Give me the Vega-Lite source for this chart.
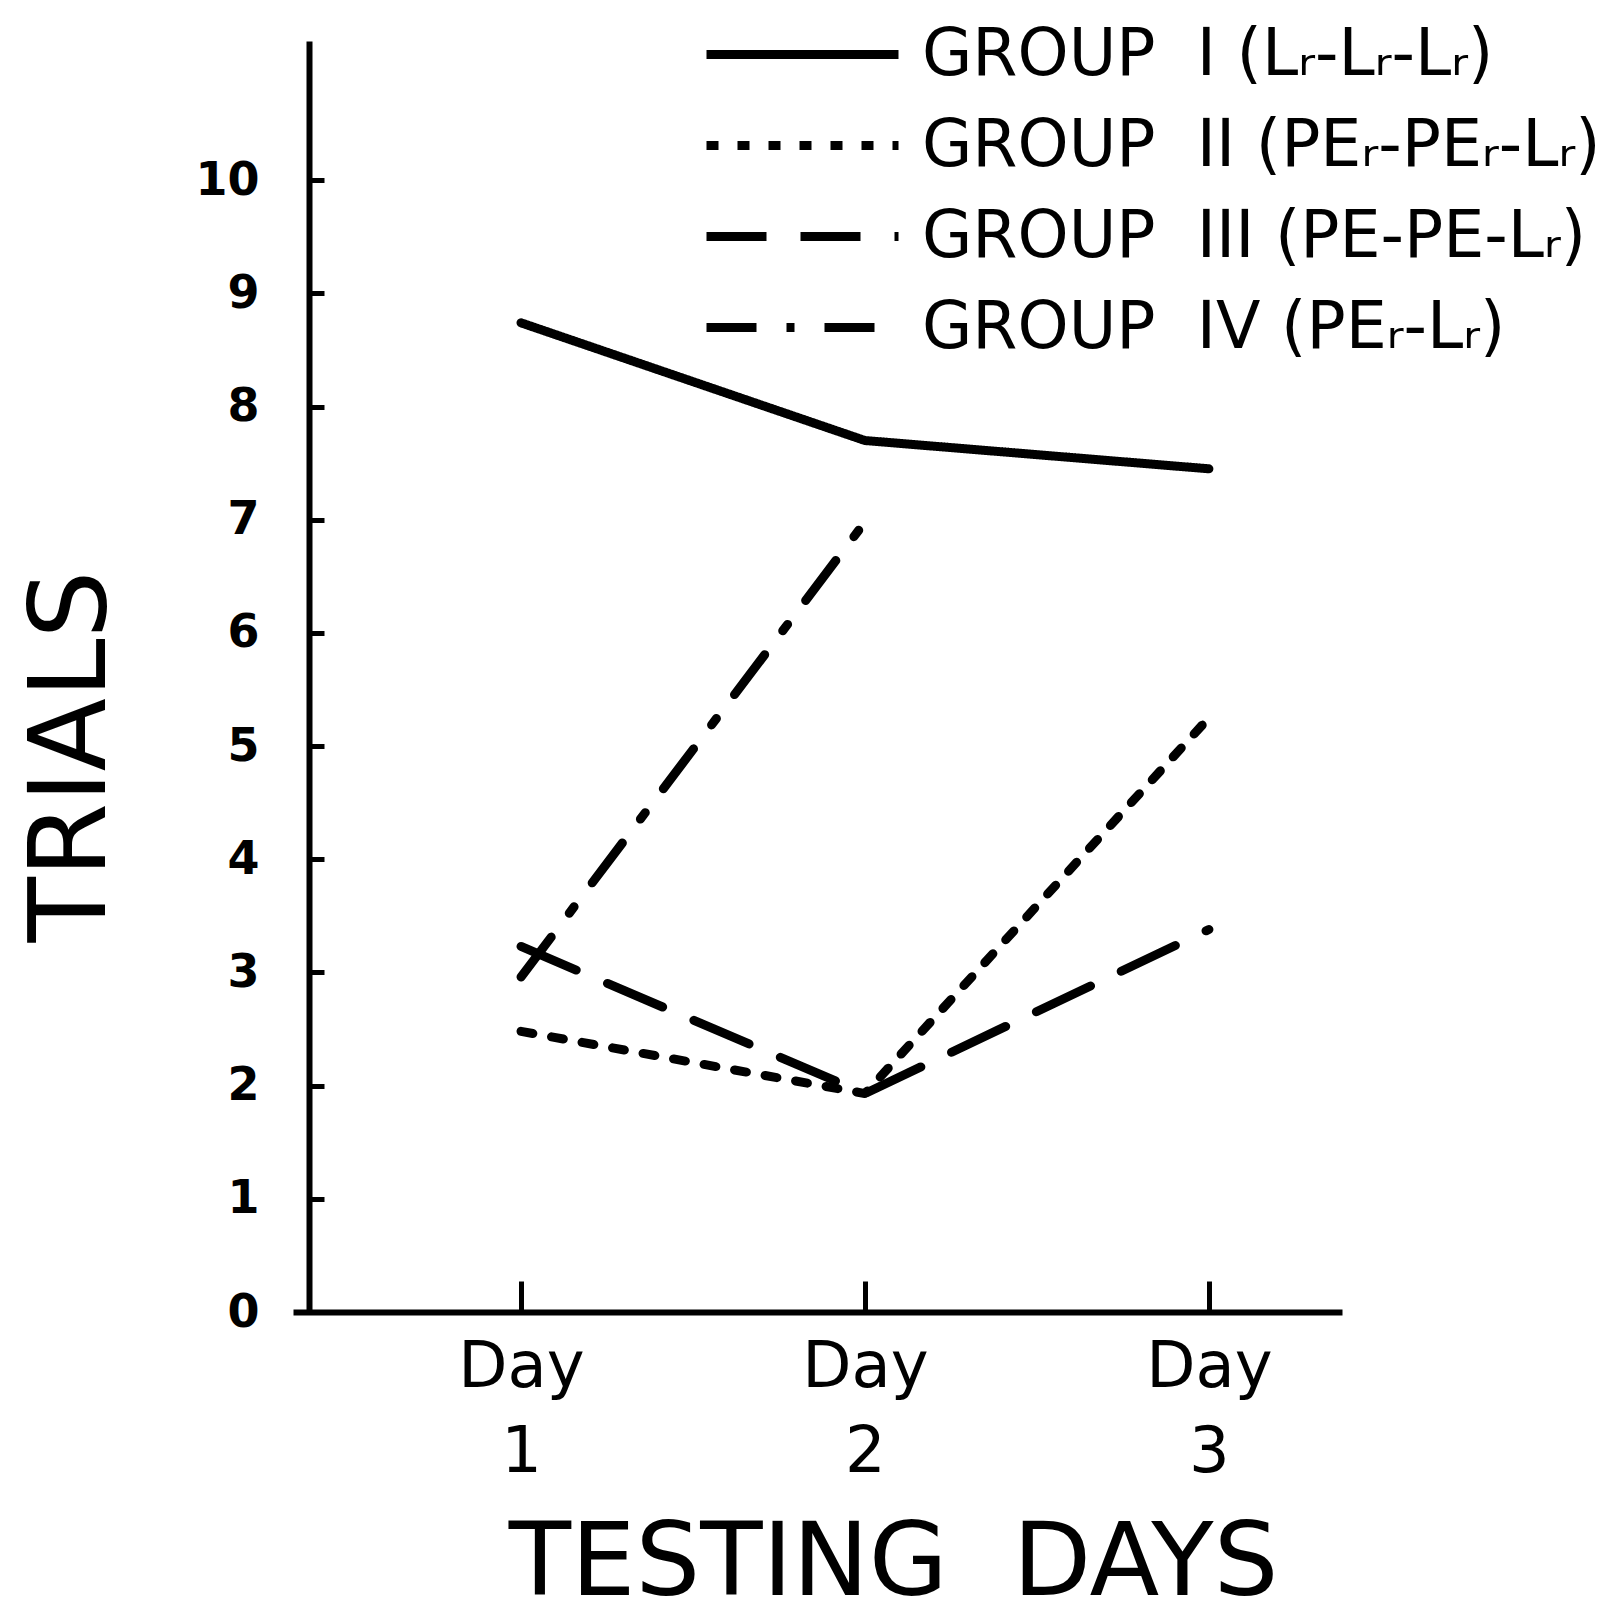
{
  "$schema": "https://vega.github.io/schema/vega-lite/v6.json",
  "autosize": {"type": "none"},
  "padding": {"left": 293, "top": 41, "right": 277, "bottom": 312},
  "width": 1049,
  "height": 1271,
  "background": "white",
  "config": {"view": {"stroke": null}, "font": "DejaVu Sans"},
  "data": {
    "values": [
      {"group": "GROUP\u00a0\u00a0I\u00a0(Lᵣ-Lᵣ-Lᵣ)", "day": 1, "trials": 8.74},
      {"group": "GROUP\u00a0\u00a0I\u00a0(Lᵣ-Lᵣ-Lᵣ)", "day": 2, "trials": 7.70},
      {"group": "GROUP\u00a0\u00a0I\u00a0(Lᵣ-Lᵣ-Lᵣ)", "day": 3, "trials": 7.45},
      {"group": "GROUP\u00a0\u00a0II\u00a0(PEᵣ-PEᵣ-Lᵣ)", "day": 1, "trials": 2.48},
      {"group": "GROUP\u00a0\u00a0II\u00a0(PEᵣ-PEᵣ-Lᵣ)", "day": 2, "trials": 1.93},
      {"group": "GROUP\u00a0\u00a0II\u00a0(PEᵣ-PEᵣ-Lᵣ)", "day": 3, "trials": 5.25},
      {"group": "GROUP\u00a0\u00a0III\u00a0(PE-PE-Lᵣ)", "day": 1, "trials": 3.23},
      {"group": "GROUP\u00a0\u00a0III\u00a0(PE-PE-Lᵣ)", "day": 2, "trials": 1.93},
      {"group": "GROUP\u00a0\u00a0III\u00a0(PE-PE-Lᵣ)", "day": 3, "trials": 3.38},
      {"group": "GROUP\u00a0\u00a0IV\u00a0(PEᵣ-Lᵣ)", "day": 1, "trials": 2.96},
      {"group": "GROUP\u00a0\u00a0IV\u00a0(PEᵣ-Lᵣ)", "day": 2, "trials": 6.98}
    ]
  },
  "mark": {"type": "line", "color": "black", "strokeWidth": 9, "strokeCap": "round", "strokeJoin": "round"},
  "encoding": {
    "x": {
      "field": "day",
      "type": "quantitative",
      "scale": {"domain": [0.337, 3.387], "nice": false, "zero": false},
      "axis": {
        "values": [1, 2, 3],
        "format": "d",
        "grid": false,
        "domainColor": "black",
        "domainWidth": 6,
        "tickColor": "black",
        "tickWidth": 5,
        "tickSize": -31,
        "labelPadding": 105,
        "labelFontSize": 64,
        "labelLineHeight": 85,
        "labelBaseline": "alphabetic",
        "labelAlign": "center",
        "labelColor": "black",
        "labelFlush": false,
        "labelOverlap": false,
        "labelExpr": "['Day', datum.label]",
        "title": "TESTING\u00a0\u00a0DAYS",
        "titleFontSize": 102,
        "titleFontWeight": "normal",
        "titleColor": "black",
        "titleX": 600,
        "titleY": 282,
        "titleAlign": "center",
        "titleBaseline": "alphabetic"
      }
    },
    "y": {
      "field": "trials",
      "type": "quantitative",
      "scale": {"domain": [0, 11.23], "nice": false, "zero": false},
      "axis": {
        "values": [0, 1, 2, 3, 4, 5, 6, 7, 8, 9, 10],
        "format": "d",
        "offset": -16,
        "grid": false,
        "domainColor": "black",
        "domainWidth": 6,
        "tickColor": "black",
        "tickWidth": 5,
        "tickSize": -15,
        "labelPadding": 65,
        "labelFontSize": 46,
        "labelFontWeight": "bold",
        "labelAlign": "right",
        "labelBaseline": "middle",
        "labelColor": "black",
        "labelFlush": false,
        "labelOverlap": false,
        "title": "TRIALS",
        "titleFontSize": 107,
        "titleFontWeight": "normal",
        "titleColor": "black",
        "titleAngle": 270,
        "titleX": -205,
        "titleY": 715,
        "titleAlign": "center",
        "titleBaseline": "alphabetic"
      }
    },
    "strokeDash": {
      "field": "group",
      "type": "nominal",
      "scale": {
        "domain": [
          "GROUP\u00a0\u00a0I\u00a0(Lᵣ-Lᵣ-Lᵣ)",
          "GROUP\u00a0\u00a0II\u00a0(PEᵣ-PEᵣ-Lᵣ)",
          "GROUP\u00a0\u00a0III\u00a0(PE-PE-Lᵣ)",
          "GROUP\u00a0\u00a0IV\u00a0(PEᵣ-Lᵣ)"
        ],
        "range": [[1, 0], [12, 19], [60, 34], [50, 30, 8, 30]]
      },
      "legend": {
        "title": null,
        "orient": "none",
        "legendX": 405,
        "legendY": -19,
        "padding": 0,
        "symbolType": "M-1,0H7",
        "symbolSize": 2304,
        "symbolStrokeWidth": 9,
        "symbolStrokeColor": "black",
        "labelFontSize": 65,
        "labelColor": "black",
        "labelOffset": 159,
        "labelLimit": 0,
        "labelBaseline": "middle",
        "rowPadding": 25
      }
    }
  }
}
